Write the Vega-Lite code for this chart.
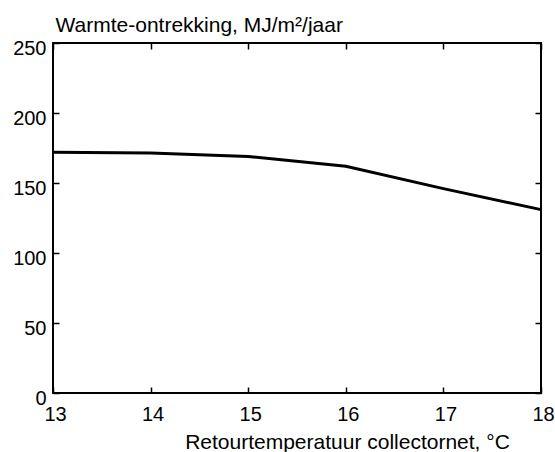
{
  "$schema": "https://vega.github.io/schema/vega-lite/v6.json",
  "width": 488,
  "height": 350,
  "autosize": {"type": "none"},
  "padding": {"left": 53, "top": 43, "right": 14, "bottom": 59},
  "background": "white",
  "config": {
    "font": "Liberation Sans",
    "view": {"stroke": "black", "strokeWidth": 2},
    "axis": {
      "grid": false,
      "domain": false,
      "offset": -6,
      "ticks": true,
      "zindex": 1,
      "tickColor": "black",
      "tickOpacity": 1,
      "tickWidth": 1.5,
      "tickSize": 6,
      "labelFlush": false,
      "labelOverlap": false,
      "labelColor": "black",
      "labelFont": "Liberation Sans",
      "labelFontSize": 20,
      "titleFont": "Liberation Sans",
      "titleFontSize": 21,
      "titleFontWeight": "normal",
      "titleColor": "black"
    }
  },
  "data": {
    "values": [
      {"temp": 13, "energy": 172},
      {"temp": 14, "energy": 171.5},
      {"temp": 15, "energy": 169},
      {"temp": 16, "energy": 162},
      {"temp": 17, "energy": 146},
      {"temp": 18, "energy": 131}
    ]
  },
  "layer": [
    {
      "mark": {"type": "line", "color": "black", "strokeWidth": 3},
      "encoding": {
        "x": {
          "field": "temp",
          "type": "quantitative",
          "scale": {"domain": [13, 18], "nice": false, "zero": false},
          "axis": {
            "orient": "bottom",
            "values": [13, 14, 15, 16, 17, 18],
            "labelPadding": 11,
            "labelOffset": 2,
            "title": "Retourtemperatuur collectornet, °C",
            "titleX": 294,
            "titleY": 61,
            "titleAlign": "center",
            "titleBaseline": "alphabetic"
          }
        },
        "y": {
          "field": "energy",
          "type": "quantitative",
          "scale": {"domain": [0, 250], "nice": false},
          "axis": {
            "orient": "left",
            "values": [0, 50, 100, 150, 200, 250],
            "labelPadding": 7,
            "labelOffset": 5,
            "title": "Warmte-ontrekking, MJ/m²/jaar",
            "titleAngle": 0,
            "titleAlign": "left",
            "titleBaseline": "alphabetic",
            "titleX": -4,
            "titleY": -12
          }
        }
      }
    },
    {
      "mark": {"type": "line", "opacity": 0},
      "encoding": {
        "x": {
          "field": "temp",
          "type": "quantitative",
          "axis": {"orient": "top", "values": [13, 14, 15, 16, 17, 18], "labels": false, "title": null}
        },
        "y": {
          "field": "energy",
          "type": "quantitative",
          "axis": {"orient": "right", "values": [0, 50, 100, 150, 200, 250], "labels": false, "title": null}
        }
      }
    }
  ],
  "resolve": {"axis": {"x": "independent", "y": "independent"}}
}
